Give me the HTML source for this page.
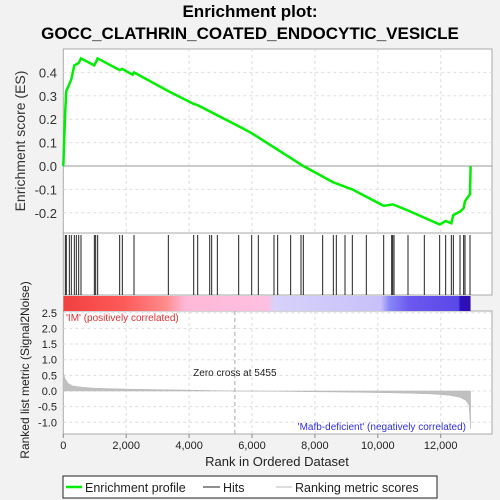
<!DOCTYPE html>
<html><head><meta charset="utf-8"><style>
html,body{margin:0;padding:0;background:#f2f2f2;}
svg{display:block;font-family:"Liberation Sans","DejaVu Sans",sans-serif;}
</style></head><body>
<svg id="chart" width="500" height="500" viewBox="0 0 500 500">
<rect width="500" height="500" fill="#f2f2f2"/>
<text x="250" y="17" text-anchor="middle" font-size="17" font-weight="bold">Enrichment plot:</text>
<text x="250" y="39" text-anchor="middle" font-size="17" font-weight="bold">GOCC_CLATHRIN_COATED_ENDOCYTIC_VESICLE</text>
<g id="g"></g>
</svg>
<script>
const esRanks=[0,65,96,192,255,351,489,563,987,1093,1792,1877,2200,2248,3340,4146,4273,5576,5990,7632,8586,9190,10187,10473,10960,11967,12158,12338,12402,12614,12730,12773,12932,12950];
const esValues=[0,0.24,0.32,0.35,0.37,0.43,0.44,0.46,0.43,0.46,0.41,0.415,0.39,0.40,0.32,0.265,0.26,0.17,0.14,0.0,-0.07,-0.10,-0.17,-0.164,-0.19,-0.25,-0.235,-0.245,-0.21,-0.195,-0.18,-0.15,-0.12,0.0];
const hits=[65,96,192,255,351,414,489,563,987,1029,1093,1792,1877,2248,3340,4146,4273,4655,4718,4898,5576,5990,6201,6699,6816,7229,7558,7632,8247,8586,8681,8957,9190,9635,10187,10441,10473,10515,10960,11479,11967,12158,12338,12402,12614,12730,12773,12932];
const metricRanks=[0,50,150,300,600,1000,2000,3000,4000,5455,6750,8000,9000,10000,11000,11800,12300,12600,12800,12900,12950];
const metricValues=[0.6,0.4,0.25,0.16,0.12,0.09,0.06,0.045,0.03,0.0,-0.01,-0.025,-0.035,-0.05,-0.07,-0.1,-0.14,-0.2,-0.3,-0.45,-1.2];
const xTicks=[0,2000,4000,6000,8000,10000,12000];
const esTicks=[-0.2,-0.1,0.0,0.1,0.2,0.3,0.4];
const metricTicks=[-1.0,-0.5,0.0,0.5,1.0,1.5,2.0,2.5];

const NS="http://www.w3.org/2000/svg";
const g=document.getElementById('g');
const L=63.3,R=492,xmax=(R-L)/0.03145;
const X=r=>L+r*0.03145;
const Yes=v=>166-v*234;
const Ym=v=>391-v*31.3;
function el(t,a,p){const e=document.createElementNS(NS,t);for(const k in a)e.setAttribute(k,a[k]);(p||g).appendChild(e);return e;}
function txt(x,y,s,a){const e=el('text',Object.assign({x:x,y:y},a||{}));e.textContent=s;return e;}

// panels
let p1=el('rect',{x:L,y:49,width:R-L,height:184,fill:'#fff',stroke:'#aaa'});


let p2=el('rect',{x:L,y:233,width:R-L,height:62,fill:'#fff',stroke:'#aaa'});


let p3=el('rect',{x:L,y:311,width:R-L,height:123,fill:'#fff',stroke:'#aaa'});



// grid
xTicks.forEach(t=>{ if(t>0){
 el('line',{x1:X(t),x2:X(t),y1:49,y2:233,stroke:'#ddd','stroke-dasharray':'3,3'});
 el('line',{x1:X(t),x2:X(t),y1:311,y2:434,stroke:'#ddd','stroke-dasharray':'3,3'});}});
esTicks.forEach(t=>{
 el('line',{x1:L,x2:R,y1:Yes(t),y2:Yes(t),stroke:t===0?'#999':'#ddd','stroke-dasharray':t===0?'':'3,3'});
 let lb=txt(57,Yes(t)+5,t.toFixed(1),{'text-anchor':'end','font-size':'13',fill:'#333'});
 
 
});
metricTicks.forEach(t=>{
 el('line',{x1:L,x2:R,y1:Ym(t),y2:Ym(t),stroke:'#ddd','stroke-dasharray':'3,3'});
 let lb=txt(57,Ym(t)+4,t.toFixed(1),{'text-anchor':'end','font-size':'11',fill:'#222'});
 
 
});

// ES line
let d=esRanks.map((r,i)=>(i?'L':'M')+X(r).toFixed(1)+','+Yes(esValues[i]).toFixed(1)).join(' ');
let es=el('path',{d:d,fill:'none',stroke:'#00ee00','stroke-width':'2.5'});



// hits
hits.forEach(h=>{let l=el('line',{x1:X(h),x2:X(h),y1:235,y2:295,stroke:'#222','stroke-width':'1'});
 
 });

// color bar
let defs=el('defs',{});
let lg=el('linearGradient',{id:'cb',x1:'0',x2:'1',y1:'0',y2:'0'},defs);
[[0,'#f04040'],[0.15,'#ff5a5a'],[0.25,'#ff8a8a'],[0.3,'#ffb8d8'],[0.5,'#ffc0e0'],[0.52,'#d6d2fa'],[0.78,'#c8c0fa'],[0.8,'#8888f8'],[0.85,'#6c58ee'],[0.97,'#5a48e8'],[0.975,'#2a10c0'],[1,'#3010b0']].forEach(s=>el('stop',{offset:s[0],'stop-color':s[1]},lg));
let cb=el('rect',{x:L,y:296,width:X(12950)-L,height:15,fill:'url(#cb)'});



// metric area
let md='M'+X(0)+','+Ym(0)+' '+metricRanks.map((r,i)=>'L'+X(r).toFixed(1)+','+Ym(metricValues[i]).toFixed(1)).join(' ')+' L'+X(12950)+','+Ym(0)+' Z';
let ma=el('path',{d:md,fill:'#c0c0c0',stroke:'#b8b8b8','stroke-width':'0.5'});


el('line',{x1:X(5455),x2:X(5455),y1:311,y2:434,stroke:'#aaa','stroke-dasharray':'4,3'});
let zc=txt(X(5455),376,'Zero cross at 5455',{'text-anchor':'middle','font-size':'10',fill:'#222'});


let pl=txt(66,321,"'IM' (positively correlated)",{'font-size':'10',fill:'#e03030'});


let nl=txt(466,430,"'Mafb-deficient' (negatively correlated)",{'text-anchor':'end','font-size':'10',fill:'#3030e0'});



// x ticks
xTicks.forEach(t=>{el('line',{x1:X(t),x2:X(t),y1:434,y2:438,stroke:'#888'});
 let lb=txt(X(t),449,t.toLocaleString('en-US'),{'text-anchor':'middle','font-size':'11',fill:'#222'});
 
 });
let xt=txt(277,466,'Rank in Ordered Dataset',{'text-anchor':'middle','font-size':'13',fill:'#222'});


let yt=txt(0,0,'Enrichment score (ES)',{'text-anchor':'middle','font-size':'14',fill:'#333',transform:'translate(25,141) rotate(-90)'});


let yt2=txt(0,0,'Ranked list metric (Signal2Noise)',{'text-anchor':'middle','font-size':'12',fill:'#222',transform:'translate(29,370) rotate(-90)'});



// legend
let lgb=el('rect',{x:63,y:476,width:374,height:22,fill:'#fff',stroke:'#222'});


el('line',{x1:66,x2:82,y1:487,y2:487,stroke:'#00ee00','stroke-width':'2.5'});
let l1=txt(85,492,'Enrichment profile',{'font-size':'12.5',fill:'#222'});


el('line',{x1:203,x2:220,y1:487,y2:487,stroke:'#222'});
let l2=txt(223,492,'Hits',{'font-size':'12.5',fill:'#222'});


el('line',{x1:276,x2:292,y1:487,y2:487,stroke:'#bbb'});
let l3=txt(295,492,'Ranking metric scores',{'font-size':'12.5',fill:'#222'});


</script>
</body></html>
